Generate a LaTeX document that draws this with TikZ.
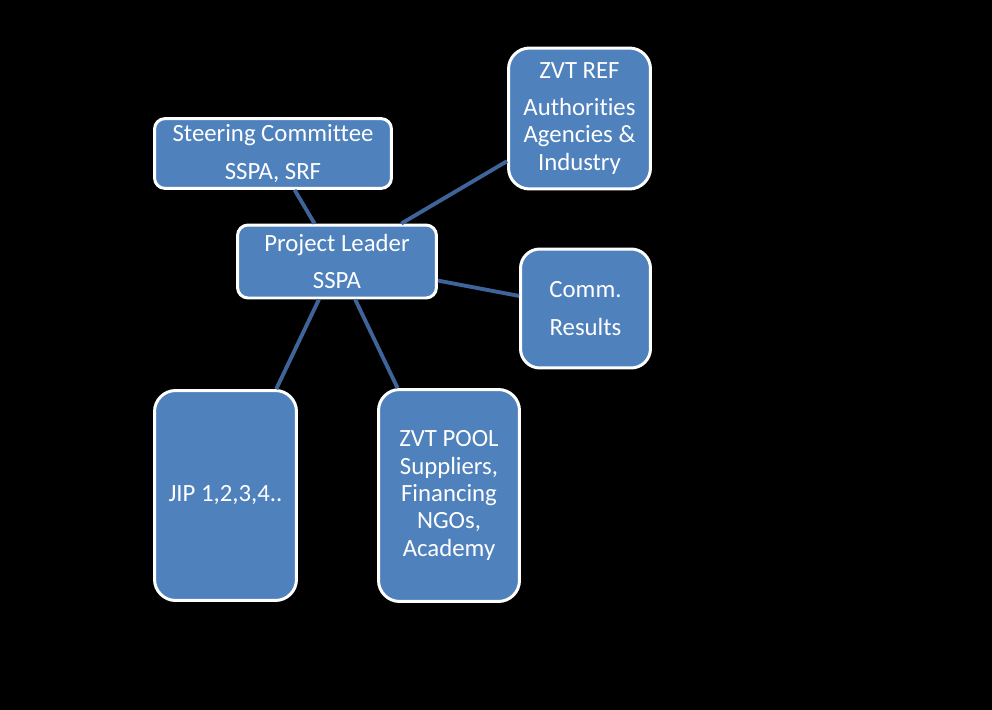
\documentclass[tikz,border=0pt]{standalone}
\usepackage{fontspec}
\setmainfont{Carlito}[Ligatures=NoCommon]
\usetikzlibrary{positioning}

\definecolor{boxblue}{RGB}{79,129,189}
\definecolor{linkblue}{RGB}{62,100,153}

\begin{document}
\begin{tikzpicture}[
        x=0.02cm, y=-0.02cm,
        orgbox/.style={rectangle, rounded corners=6pt, draw=white, line width=1.7pt, fill=boxblue, text=white, align=center, font=\fontsize{14.1}{15.6}\selectfont},
        tallbox/.style={orgbox, rounded corners=12pt},
        link/.style={linkblue, line width=2.2pt},
    ]
        % Black page
        \fill[black] (0,0) rectangle (992,710);
        \useasboundingbox (0,0) rectangle (992,710);

        % Steering committee and project leader
        \node[orgbox, minimum width=4.74cm, minimum height=1.36cm] (steer) at (273,153.5) {Steering Committee\\[6pt]SSPA, SRF};
        \node[orgbox, minimum width=3.98cm, minimum height=1.46cm] (lead) at (337,261.5) {Project Leader\\[6pt]SSPA};

        % Right hand side
        \node[tallbox, minimum width=2.84cm, minimum height=2.82cm] (ref) at (579.5,118.5) {ZVT REF\\[5.5pt]Authorities\\Agencies \&\\Industry};
        \node[tallbox, minimum width=2.60cm, minimum height=2.38cm, rounded corners=11pt] (comm) at (585.5,308.5) {Comm.\\[6pt]Results};

        % Bottom row
        \node[tallbox, minimum width=2.84cm, minimum height=4.20cm] (jip) at (225.5,495.5) {JIP 1,2,3,4..};
        \node[tallbox, minimum width=2.82cm, minimum height=4.24cm] (pool) at (449,495.5) {ZVT POOL\\Suppliers,\\Financing\\NGOs,\\Academy};

        % Links
        \draw[link] (steer) -- (lead);
        \draw[link] (lead) -- (ref);
        \draw[link] (lead) -- (comm);
        \draw[link] (lead) -- (jip);
        \draw[link] (lead) -- (pool);
    \end{tikzpicture}
\end{document}
